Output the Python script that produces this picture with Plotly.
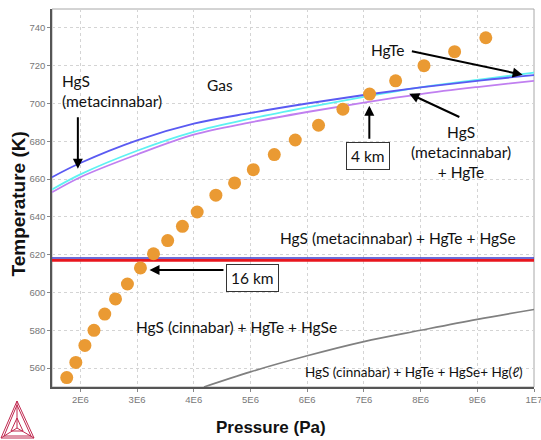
import plotly.graph_objects as go

# ---- data ----
dots_p = [1.76e6, 1.92e6, 2.08e6, 2.24e6, 2.43e6, 2.62e6, 2.83e6, 3.06e6, 3.29e6, 3.54e6,
          3.80e6, 4.06e6, 4.39e6, 4.72e6, 5.05e6, 5.42e6, 5.79e6, 6.20e6, 6.63e6, 7.10e6,
          7.56e6, 8.06e6, 8.60e6, 9.15e6]
dots_t = [555, 563, 572, 580, 588.6, 596.6, 604.5, 613, 620.5, 627.5,
          635, 642.6, 651.5, 658, 665, 673, 680.7, 688.5, 697, 705,
          712, 720, 727.4, 734.8]

curve_p = [1.5e6, 2e6, 3e6, 4e6, 5e6, 6e6, 7e6, 8e6, 9e6, 1e7]
blue_t = [661, 668.5, 680.5, 689.3, 695, 700, 704.5, 708.5, 712, 715]
cyan_t = [654.5, 662.5, 675, 685, 692, 698, 703.5, 708.5, 712.5, 716.3]
violet_t = [653, 661, 673, 683.5, 690, 695.5, 700.5, 705, 708.7, 712]

flat_p = [1.5e6, 1e7]
red_t = [617, 617]
flatblue_t = [618.3, 618.3]

liq_p = [4.18e6, 5e6, 6e6, 7e6, 8e6, 9e6, 1e7]
liq_t = [550, 558, 566.5, 574, 580, 585.8, 591]

x_ticks = [2e6, 3e6, 4e6, 5e6, 6e6, 7e6, 8e6, 9e6, 1e7]
x_labels = ["2E6", "3E6", "4E6", "5E6", "6E6", "7E6", "8E6", "9E6", "1E7"]
y_ticks = [560, 580, 600, 620, 640, 660, 680, 700, 720, 740]

fig = go.Figure()

fig.add_trace(go.Scatter(x=liq_p, y=liq_t, mode="lines", line=dict(color="#808080", width=1.6, shape="spline")))
fig.add_trace(go.Scatter(x=curve_p, y=violet_t, mode="lines", line=dict(color="#c07ff0", width=1.8, shape="spline")))
fig.add_trace(go.Scatter(x=curve_p, y=cyan_t, mode="lines", line=dict(color="#5ef2f2", width=1.8, shape="spline")))
fig.add_trace(go.Scatter(x=curve_p, y=blue_t, mode="lines", line=dict(color="#5a5af2", width=1.8, shape="spline")))
fig.add_trace(go.Scatter(x=flat_p, y=flatblue_t, mode="lines", line=dict(color="#3c3cc8", width=1.5)))
fig.add_trace(go.Scatter(x=flat_p, y=red_t, mode="lines", line=dict(color="#e8161e", width=2.6)))
fig.add_trace(go.Scatter(x=dots_p, y=dots_t, mode="markers",
                         marker=dict(color="#ea9a33", size=13, line=dict(width=0))))

txt_font = dict(family="Lato, Open Sans, sans-serif", size=15.5, color="#111111")
small_font = dict(family="Lato, Open Sans, sans-serif", size=13.5, color="#111111")

ann = []
def text(x, y, t, font=txt_font, xanchor="center", align="center"):
    ann.append(dict(x=x, y=y, xref="x", yref="y", text=t, showarrow=False, font=font,
                    xanchor=xanchor, yanchor="middle", align=align))

def arrow(hx, hy, tx, ty):
    ann.append(dict(x=hx, y=hy, ax=tx, ay=ty, xref="x", yref="y", axref="x", ayref="y",
                    text="", showarrow=True, arrowhead=2, arrowsize=1, arrowwidth=2,
                    arrowcolor="#000000"))

text(1.64e6, 706.6, "HgS<br>(metacinnabar)", xanchor="left", align="left")
arrow(1.956e6, 665.5, 1.956e6, 693.5)
text(4.46e6, 709.8, "Gas")
text(7.43e6, 728.3, "HgTe")
arrow(9.80e6, 715.2, 7.82e6, 727.8)
arrow(7.096e6, 698.8, 7.096e6, 680.5)
ann.append(dict(x=7.08e6, y=672.2, xref="x", yref="y", text="4 km", showarrow=False,
                font=txt_font, bordercolor="#333333", borderwidth=1, borderpad=4,
                bgcolor="white"))
arrow(7.80e6, 705.2, 8.71e6, 692.5)
text(8.71e6, 674.3, "HgS<br>(metacinnabar)<br>+ HgTe")
text(7.6e6, 628.8, "HgS (metacinnabar) + HgTe + HgSe")
arrow(3.22e6, 611.9, 4.55e6, 611.9)
ann.append(dict(x=5.03e6, y=607.7, xref="x", yref="y", text="16 km", showarrow=False,
                font=txt_font, bordercolor="#333333", borderwidth=1, borderpad=4,
                bgcolor="white"))
text(4.76e6, 581.7, "HgS (cinnabar) + HgTe + HgSe")
text(7.89e6, 557.9, "HgS (cinnabar) + HgTe + HgSe+ Hg(<i>ℓ</i>)", font=small_font)

# ---- logo (decoration) in paper coords ----
L, R, T, B = 52, 534, 9, 387
def px(x):
    return (x - L) / (R - L)
def py(y):
    return (B - y) / (B - T)
logo_col = "#c0284f"
shapes = []
apex, bl, br, c = (17, 401), (1, 438), (34, 438), (17, 428)
def seg(p, q, w=1):
    shapes.append(dict(type="line", xref="paper", yref="paper", x0=px(p[0]), y0=py(p[1]),
                       x1=px(q[0]), y1=py(q[1]), line=dict(color=logo_col, width=w)))
seg(apex, bl); seg(apex, br); seg(bl, br)
seg((17, 405), (4, 436)); seg((17, 405), (31, 436)); seg((4, 436), (31, 436))
seg(apex, c); seg(bl, c); seg(br, c)
seg((11, 431), (23, 431)); seg((11, 431), (17, 418)); seg((23, 431), (17, 418))
# plot frame (light top/right)
shapes.append(dict(type="rect", xref="paper", yref="paper", x0=0, y0=0, x1=1, y1=1,
                   line=dict(color="#a8a8a8", width=1), layer="below"))

title_font_x = dict(family="Liberation Sans, Arial", size=17, color="#111")
title_font_y = dict(family="Liberation Sans, Arial", size=19, color="#111")

fig.update_layout(
    width=541, height=440,
    margin=dict(l=52, r=7, t=9, b=53, autoexpand=False),
    paper_bgcolor="white", plot_bgcolor="white",
    showlegend=False,
    annotations=ann + [
        dict(x=px(271), y=py(427), xref="paper", yref="paper", text="<b>Pressure (Pa)</b>",
             showarrow=False, font=title_font_x, xanchor="center", yanchor="middle"),
        dict(x=px(18.5), y=py(204), xref="paper", yref="paper", text="<b>Temperature (K)</b>",
             showarrow=False, textangle=-90, font=title_font_y,
             xanchor="center", yanchor="middle"),
    ],
    shapes=shapes,
    xaxis=dict(range=[1.5e6, 1e7], tickvals=x_ticks, ticktext=x_labels,
               showgrid=True, gridcolor="#d4d4d4", griddash="dot", gridwidth=1,
               showline=True, linecolor="#555555", linewidth=1.5,
               ticks="outside", ticklen=3, tickcolor="#888888",
               tickfont=dict(family="Liberation Sans, Arial", size=9.5, color="#777777"),
               ticklabeloverflow="allow", automargin=False,
               zeroline=False),
    yaxis=dict(range=[550, 750], tickvals=y_ticks,
               showgrid=True, gridcolor="#d4d4d4", griddash="dot", gridwidth=1,
               showline=True, linecolor="#555555", linewidth=1.5,
               ticks="outside", ticklen=3, tickcolor="#888888",
               tickfont=dict(family="Liberation Sans, Arial", size=9.5, color="#777777"),
               ticklabeloverflow="allow", automargin=False,
               zeroline=False),
)

fig.write_html("out.html", config={"displayModeBar": False},
               post_script="document.body.style.margin='0';document.body.style.overflow='hidden';")
